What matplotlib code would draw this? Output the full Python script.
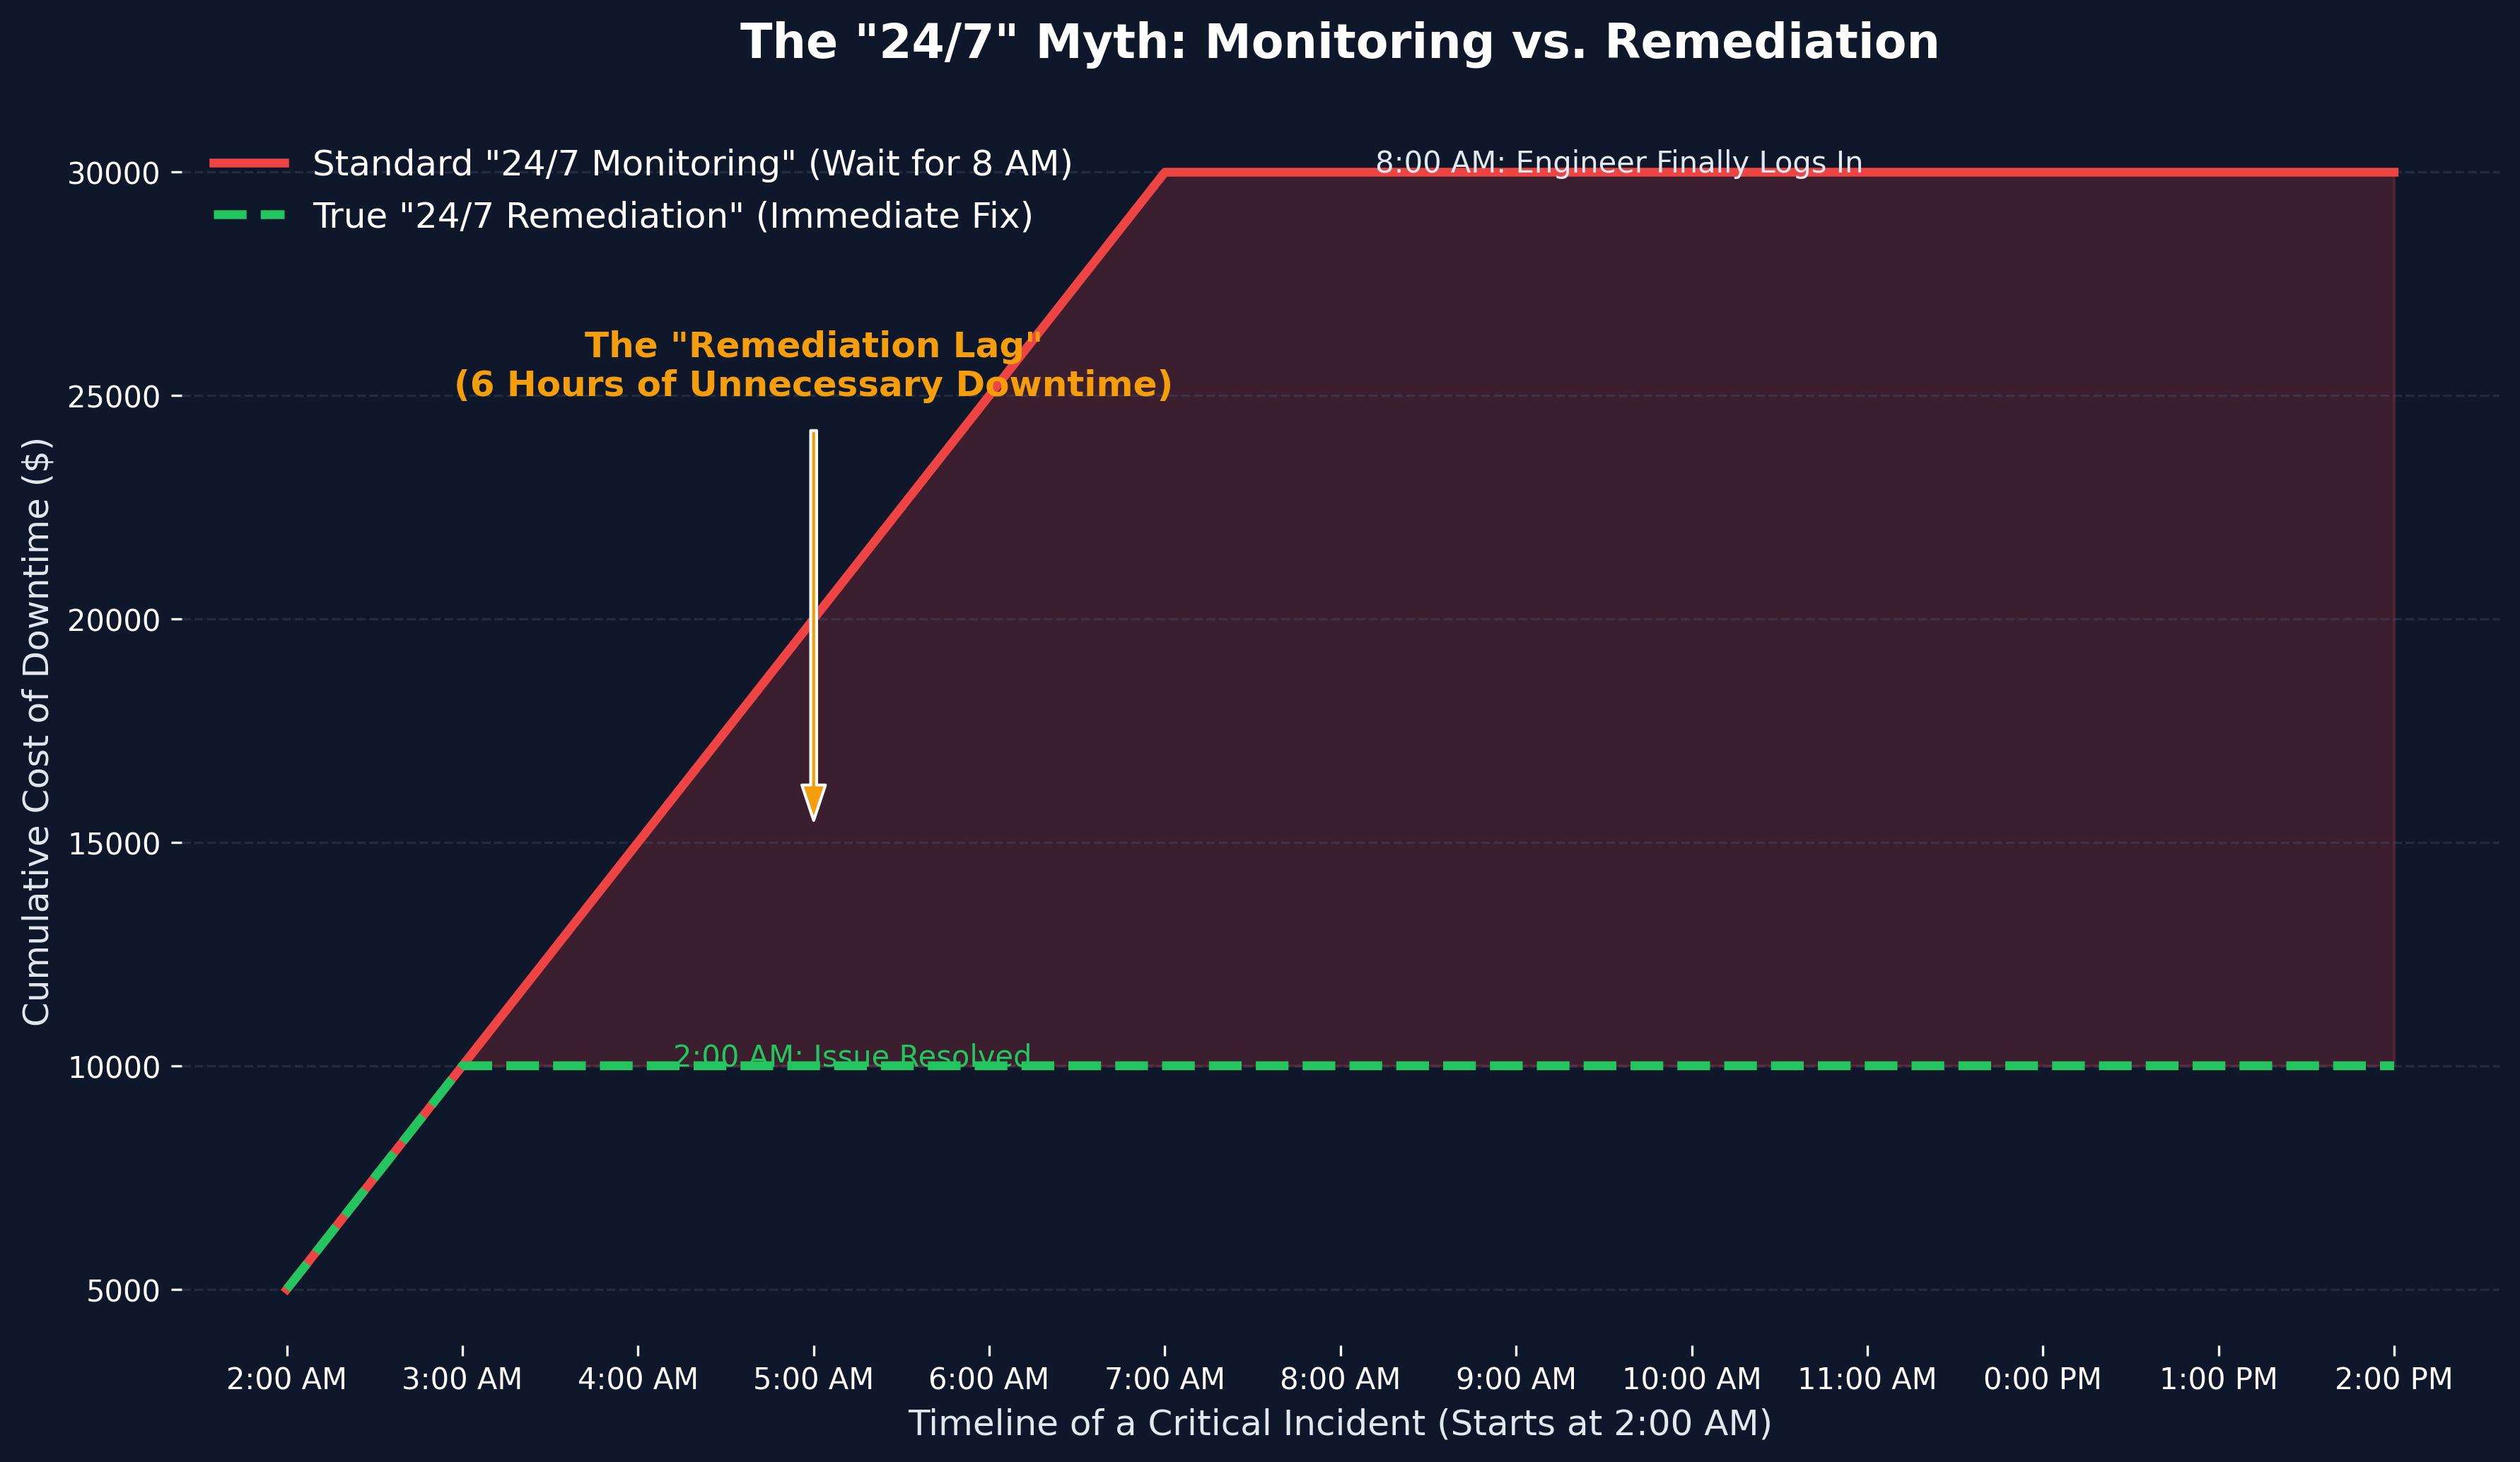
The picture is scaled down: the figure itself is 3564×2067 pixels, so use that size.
import matplotlib
matplotlib.use("Agg")
import matplotlib.pyplot as plt
import numpy as np

bg = "#0f172a"
red = "#ef4444"
green = "#22c55e"
orange = "#f59e0b"
soft_white = "#e2e8f0"

# hours since 2:00 AM
hours = [0, 1, 2, 3, 4, 5, 6, 7, 8, 9, 10, 11, 12]
hour_labels = ["2:00 AM", "3:00 AM", "4:00 AM", "5:00 AM", "6:00 AM", "7:00 AM",
               "8:00 AM", "9:00 AM", "10:00 AM", "11:00 AM", "0:00 PM", "1:00 PM",
               "2:00 PM"]

# cumulative cost of downtime ($)
standard_cost = [5000, 10000, 15000, 20000, 25000, 30000, 30000, 30000,
                 30000, 30000, 30000, 30000, 30000]
remediation_cost = [5000, 10000, 10000, 10000, 10000, 10000, 10000, 10000,
                    10000, 10000, 10000, 10000, 10000]

std = np.array(standard_cost)
rem = np.array(remediation_cost)

fig, ax = plt.subplots(figsize=(11.883, 6.893), dpi=300)
fig.patch.set_facecolor(bg)
ax.set_facecolor(bg)

ax.plot(hours, std, color=red, lw=3, label='Standard "24/7 Monitoring" (Wait for 8 AM)')
ax.plot(hours, rem, color=green, lw=3, linestyle="--",
        label='True "24/7 Remediation" (Immediate Fix)')
ax.fill_between(hours, std, rem, where=std >= rem, color=red, alpha=0.2)

# annotations
ax.text(6.2, 30000, "8:00 AM: Engineer Finally Logs In", color=soft_white, fontsize=10)
ax.text(2.2, 10000, "2:00 AM: Issue Resolved", color=green, fontsize=10)
ax.annotate('The "Remediation Lag"\n(6 Hours of Unnecessary Downtime)',
            xy=(3, 15000), xytext=(3, 25000), ha="center",
            color=orange, fontsize=12, fontweight="bold",
            arrowprops=dict(facecolor=orange, edgecolor="white", shrink=0.05,
                            width=2, headwidth=8, headlength=12))

ax.set_title('The "24/7" Myth: Monitoring vs. Remediation', color="white",
             fontsize=16, fontweight="bold", pad=20)
ax.set_xlabel("Timeline of a Critical Incident (Starts at 2:00 AM)", color=soft_white, fontsize=12)
ax.set_ylabel("Cumulative Cost of Downtime ($)", color=soft_white, fontsize=12)

ax.set_xticks(hours)
ax.set_xticklabels(hour_labels)
ax.tick_params(colors="white", labelsize=10)
for s in ax.spines.values():
    s.set_visible(False)
ax.grid(axis="y", linestyle="--", color="#475569", alpha=0.35, lw=0.8)

leg = ax.legend(loc="upper left", frameon=False, fontsize=12)
for t in leg.get_texts():
    t.set_color("white")

fig.subplots_adjust(left=0.072, right=0.9916, top=0.920, bottom=0.080)
fig.savefig("out.png", dpi=300, facecolor=bg)
